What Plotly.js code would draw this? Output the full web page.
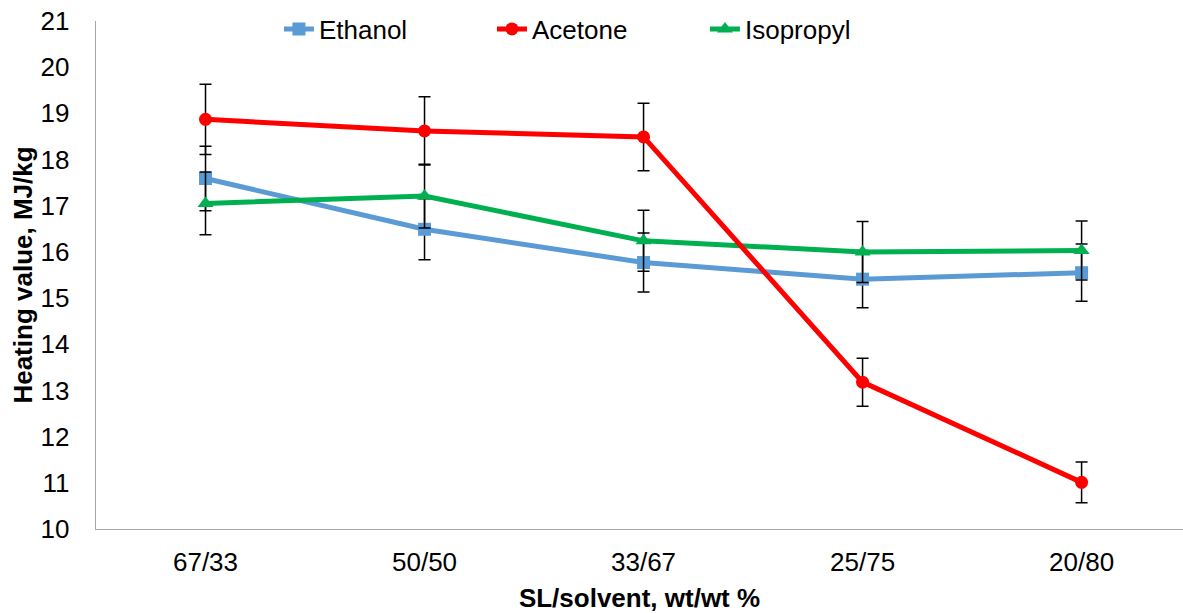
<!DOCTYPE html>
<html>
<head>
<meta charset="utf-8">
<script src="https://cdn.plot.ly/plotly-3.0.1.min.js"></script>
<style>html,body{margin:0;padding:0;background:#fff;}#chart{width:1183px;height:613px;}</style>
</head>
<body>
<div id="chart"></div>
<script>
const categories = ["67/33", "50/50", "33/67", "25/75", "20/80"];
const ethanol = [17.59, 16.49, 15.77, 15.41, 15.55];
const ethanolErr = [0.70, 0.66, 0.64, 0.62, 0.62];
const acetone = [18.87, 18.62, 18.49, 13.18, 11.01];
const acetoneErr = [0.76, 0.74, 0.73, 0.52, 0.44];
const isopropyl = [17.05, 17.21, 16.24, 16.00, 16.03];
const isopropylErr = [0.68, 0.69, 0.66, 0.66, 0.64];
const yTicks = [10, 11, 12, 13, 14, 15, 16, 17, 18, 19, 20, 21];

const FONT = "Liberation Sans, Arial, sans-serif";
function errStyle(arr) {
  return {type: "data", array: arr, visible: true, color: "#000", thickness: 1.5, width: 6};
}
const xIdx = categories.map((c, i) => i);

const traces = [
  {name: "Ethanol", x: xIdx, y: ethanol, error_y: errStyle(ethanolErr), mode: "lines+markers",
   line: {color: "#5B9BD5", width: 5}, marker: {symbol: "square", size: 13, color: "#5B9BD5"}, legendrank: 1},
  {name: "Isopropyl", x: xIdx, y: isopropyl, error_y: errStyle(isopropylErr), mode: "lines+markers",
   line: {color: "#00B050", width: 5}, marker: {symbol: "triangle-up", size: 14, color: "#00B050"}, legendrank: 3},
  {name: "Acetone", x: xIdx, y: acetone, error_y: errStyle(acetoneErr), mode: "lines+markers",
   line: {color: "#FF0000", width: 5}, marker: {symbol: "circle", size: 13, color: "#FF0000"}, legendrank: 2}
];

const layout = {
  width: 1183, height: 613,
  margin: {l: 96, r: 0, t: 21, b: 84, autoexpand: false},
  paper_bgcolor: "#fff", plot_bgcolor: "#fff",
  font: {family: FONT, size: 26, color: "#000"},
  showlegend: true,
  legend: {orientation: "h", xref: "container", yref: "container",
           x: 0.2358, xanchor: "left", y: 0.9527, yanchor: "middle",
           font: {family: FONT, size: 26, color: "#000"}, entrywidth: 168, entrywidthmode: "pixels",
           bgcolor: "rgba(0,0,0,0)", traceorder: "normal"},
  xaxis: {
    tickmode: "array", tickvals: xIdx, ticktext: categories,
    range: [-0.5, 4.463], showgrid: false, zeroline: false,
    showline: true, linecolor: "#a6a6a6", linewidth: 1.3,
    ticks: "", ticklabelstandoff: 9, automargin: false,
    tickfont: {family: FONT, size: 26, color: "#000"},
    title: {text: "<b>SL/solvent, wt/wt %</b>", font: {family: FONT, size: 26, color: "#000"}, standoff: 20}
  },
  yaxis: {
    range: [10, 21], tickmode: "array", tickvals: yTicks, showgrid: false, zeroline: false,
    showline: true, linecolor: "#a6a6a6", linewidth: 1.3,
    ticks: "", ticklabelstandoff: 20, automargin: false,
    tickfont: {family: FONT, size: 26, color: "#000"},
    title: {text: "<b>Heating value, MJ/kg</b>", font: {family: FONT, size: 26, color: "#000"}, standoff: 0}
  }
};

Plotly.newPlot("chart", traces, layout, {staticPlot: true, displayModeBar: false});
</script>
</body>
</html>
